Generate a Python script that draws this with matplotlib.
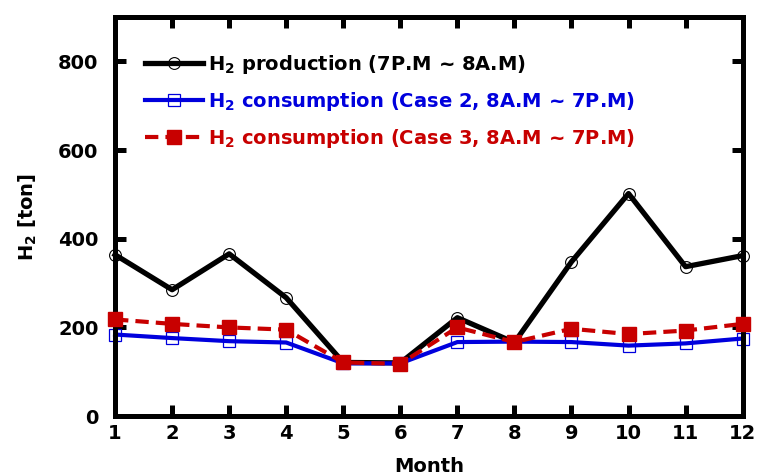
import numpy as np
import matplotlib.pyplot as plt

plt.rcParams['font.family'] = 'DejaVu Sans'
plt.rcParams['font.weight'] = 'bold'
plt.rcParams['mathtext.fontset'] = 'custom'
plt.rcParams['mathtext.bf'] = 'DejaVu Sans:bold'
plt.rcParams['mathtext.rm'] = 'DejaVu Sans:bold'
plt.rcParams['mathtext.default'] = 'bf'

### Monthly hydrogen data [ton]

months = [1, 2, 3, 4, 5, 6, 7, 8, 9, 10, 11, 12]
h2_production = [364, 285, 366, 267, 121, 120, 222, 166, 348, 502, 337, 362]
h2_case2 = [184, 176, 169, 166, 119, 119, 167, 168, 167, 159, 164, 175]
h2_case3 = [218, 208, 200, 195, 121, 118, 200, 167, 197, 185, 193, 208]

labels = [r'H$_2$ production (7P.M ~ 8A.M)',
          r'H$_2$ consumption (Case 2, 8A.M ~ 7P.M)',
          r'H$_2$ consumption (Case 3, 8A.M ~ 7P.M)']

blue = '#0000dd'
red = '#c80000'

fig = plt.figure(figsize=(7.57, 4.75), dpi=100)
ax = fig.add_axes([0.152, 0.124, 0.829, 0.840])

ax.plot(months, h2_production, color='black', lw=3.8, marker='o', ms=8.5,
        mfc='none', mec='black', mew=0.8, label=labels[0], clip_on=False)
ax.plot(months, h2_case2, color=blue, lw=3.0, marker='s', ms=8.5,
        mfc='none', mec=blue, mew=0.9, label=labels[1], clip_on=False)
ax.plot(months, h2_case3, color=red, lw=3.0, ls=(0, (3.2, 1.7)), marker='s', ms=10,
        mfc=red, mec=red, label=labels[2], clip_on=False, zorder=3)

ax.set_xlim(1, 12)
ax.set_ylim(0, 900)
ax.set_xticks(months)
ax.set_yticks([0, 200, 400, 600, 800])

for side in ax.spines.values():
    side.set_linewidth(3.6)
ax.tick_params(direction='in', length=8, width=3.6, top=True, right=True,
               labelsize=14)
ax.tick_params(axis='x', pad=6)
ax.tick_params(axis='y', pad=12)
for t in ax.get_xticklabels() + ax.get_yticklabels():
    t.set_fontweight('bold')

ax.set_xlabel('Month', fontsize=14, fontweight='bold', labelpad=10)
ax.set_ylabel(r'H$_2$ [ton]', fontsize=14, fontweight='bold', labelpad=14)

leg = ax.legend(loc='upper left', bbox_to_anchor=(0.035, 0.93), frameon=False,
                fontsize=14, handlelength=3.0, handletextpad=0.25,
                labelspacing=0.72, borderaxespad=0)
for txt, c in zip(leg.get_texts(), ['black', blue, red]):
    txt.set_color(c)
    txt.set_fontweight('bold')

fig.savefig('out.png', dpi=100)
